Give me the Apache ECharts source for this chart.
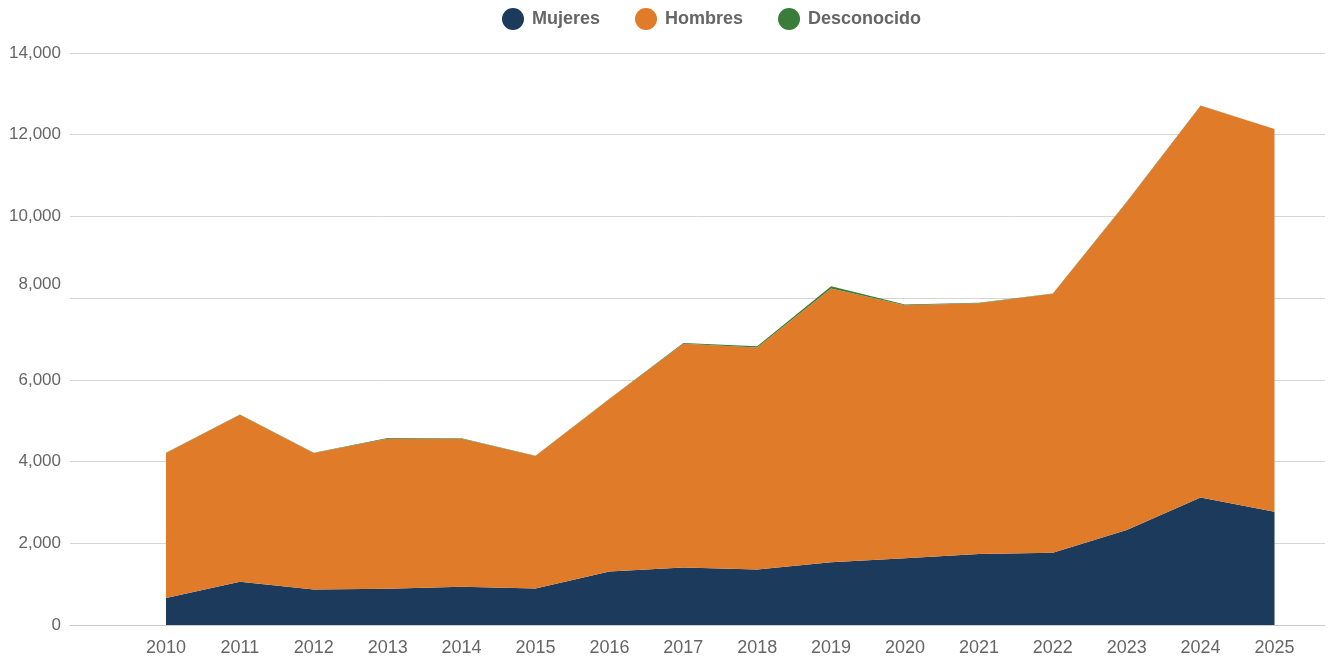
<!DOCTYPE html>
<html>
<head>
<meta charset="utf-8">
<script src="https://cdn.jsdelivr.net/npm/echarts@6/dist/echarts.min.js"></script>
<style>html,body{margin:0;padding:0;background:#fff}#c{width:1328px;height:659px}</style>
</head>
<body>
<div id="c"></div>
<script>
const years = ['2010','2011','2012','2013','2014','2015','2016','2017','2018','2019','2020','2021','2022','2023','2024','2025'];
const mujeres = [659,1056,868,885,934,893,1307,1405,1356,1537,1634,1739,1771,2324,3122,2771];
const hombres = [3551,4090,3342,3675,3626,3244,4223,5480,5439,6697,6195,6139,6334,8025,9585,9366];
const desconocido = [5,5,5,15,10,5,10,20,30,60,15,10,10,10,10,10];
const yTicks = [0,2000,4000,6000,8000,10000,12000,14000];

const chart = echarts.init(document.getElementById('c'), null, {renderer:'canvas'});
const FF = 'Liberation Sans, Arial, sans-serif';
const fmt = v => v.toLocaleString('en-US');
function mk(name, arr, color, lw){
  return {
    name, type:'line', stack:'total', data: arr, symbol:'none', showSymbol:false,
    xAxisIndex:1, yAxisIndex:1,
    lineStyle:{width:lw, color}, itemStyle:{color}, areaStyle:{color, opacity:1}, emphasis:{disabled:true}
  };
}
chart.setOption({
  animation:false,
  color:['#1b3a5c','#e07b2a','#3a7d3a'],
  legend:{
    top:3, left:497, icon:'circle', itemWidth:22, itemHeight:22, itemGap:35,
    textStyle:{fontFamily:FF, fontSize:18, fontWeight:'bold', color:'#666', padding:[0,0,0,3]},
    data:['Mujeres','Hombres','Desconocido']
  },
  grid:[
    {left:70, right:3, top:53, bottom:34, containLabel:false},
    {left:166, right:53.5, top:53, bottom:34, containLabel:false}
  ],
  xAxis:[
    {
      gridIndex:0, type:'value', min:0, max:1,
      axisLine:{show:true, lineStyle:{color:'#cccccc', width:1}},
      axisTick:{show:false}, splitLine:{show:false}, axisLabel:{show:false}
    },
    {
      gridIndex:1, type:'category', boundaryGap:false, data:years,
      axisLine:{show:false}, axisTick:{show:false}, splitLine:{show:false},
      axisLabel:{margin:14, color:'#666', fontSize:18, fontFamily:FF, interval:0}
    }
  ],
  yAxis:[
    {
      gridIndex:0, type:'value', min:yTicks[0], max:yTicks[yTicks.length-1], interval:yTicks[1]-yTicks[0],
      axisLine:{show:false}, axisTick:{show:false},
      splitLine:{lineStyle:{color:'#d6d6d6', width:1}},
      axisLabel:{
        margin:9, color:'#666', fontSize:17, fontFamily:FF,
        formatter: v => v === 8000 ? '{up|' + fmt(v) + '}' : fmt(v),
        rich:{up:{fontSize:17, color:'#666', fontFamily:FF, padding:[0,0,28,0]}}
      }
    },
    {
      gridIndex:1, type:'value', min:yTicks[0], max:yTicks[yTicks.length-1],
      show:false, splitLine:{show:false}
    }
  ],
  series:[
    mk('Mujeres', mujeres, '#1b3a5c', 0),
    mk('Hombres', hombres, '#e07b2a', 0),
    mk('Desconocido', desconocido, '#3a7d3a', 0)
  ]
});
</script>
</body>
</html>
